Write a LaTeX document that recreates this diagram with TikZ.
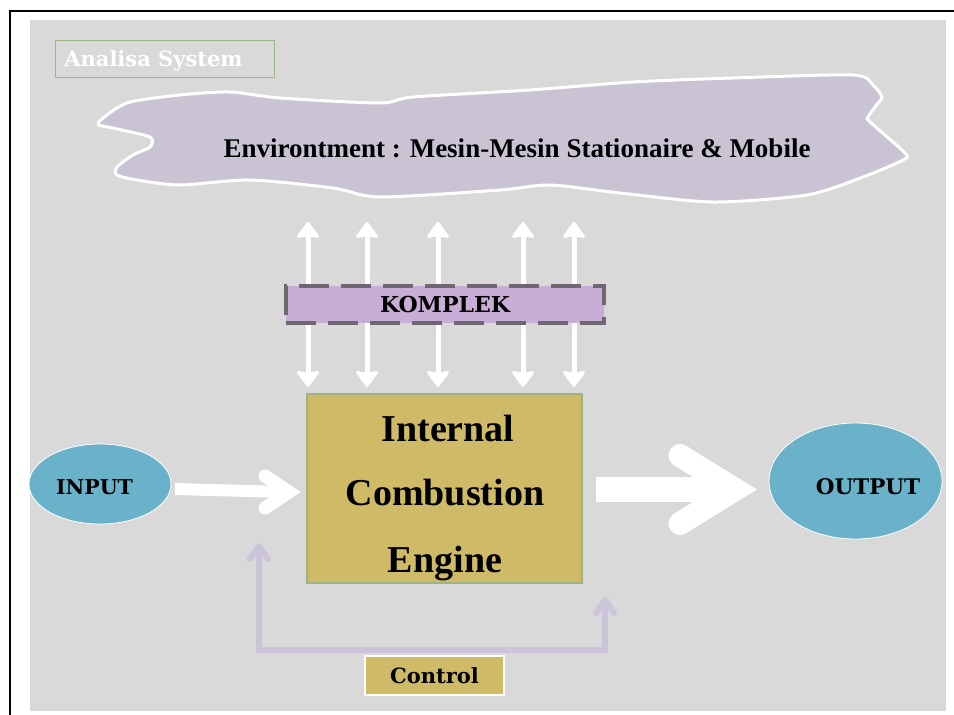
\documentclass[tikz,border=0pt]{standalone}
\usepackage{fontspec}
\setmainfont{Liberation Serif}
\newfontfamily\tagfamily{DejaVu Serif}
\usetikzlibrary{calc,shapes.geometric}

\definecolor{pagegray}{HTML}{D9D9D9}
\definecolor{cloudfill}{HTML}{C9C3D4}
\definecolor{kompfill}{HTML}{C8ADD6}
\definecolor{kompdash}{HTML}{6D6870}
\definecolor{enginefill}{HTML}{CEBA67}
\definecolor{greenedge}{HTML}{9DB582}
\definecolor{ioblue}{HTML}{6AB1CA}
\definecolor{ctrlline}{HTML}{CCC4D8}

% bold serif for the large titles, wide bold serif for the tags
\newcommand\bigbold[1]{\fontsize{#1}{#1}\selectfont\bfseries}
\newcommand\tagbold[1]{\tagfamily\fontsize{#1}{#1}\selectfont\bfseries}

\begin{document}
\begin{tikzpicture}[x=1pt,y=-1pt,
  cloudshape/.style={fill=cloudfill,draw=white,line width=3pt,line join=round},
  tagbox/.style={rectangle,inner sep=0pt},
  vlink/.style={draw=white,line width=5pt},
  vhead/.style={fill=white,draw=white,line width=3pt,line join=round},
  ctrlink/.style={draw=ctrlline,line width=6pt,line cap=round,line join=round},
  bigshaft/.style={draw=white},
  barb/.style={draw=white,line cap=round,line join=miter},
  ionode/.style={ellipse,fill=ioblue,draw=white,line width=0.8pt,inner sep=0pt}
]
\useasboundingbox (0,0) rectangle (954,715);
\fill[white] (0,0) rectangle (954,715);
\fill[pagegray] (30,20) rectangle (946,711);
\draw[black,line width=2.4pt] (10,715) -- (10,11) -- (954,11);

% title tag
\node[tagbox,draw=greenedge,line width=1pt,minimum width=219pt,minimum height=37pt] (title) at (164.5,58.5) {};
\node[anchor=base,text=white] (titletext) at (153.5,66) {\tagbold{21}Analisa System};

% environment cloud
\draw[cloudshape] plot[smooth cycle,tension=0.45] coordinates {
  (98,123) (127,103) (180,95) (230,92) (280,98) (380,103) (413,97) (530,90)
  (633,82) (733,78) (853,75) (873,85) (882,97) (878,103) (868,117) (870,122)
  (905,153) (903,160) (863,177) (807,195) (713,202) (620,193) (550,185)
  (500,190) (380,197) (333,188) (250,180) (180,185) (137,180) (117,175)
  (117,167) (133,155) (150,147) (150,137) (113,128)};
\node[anchor=base] (env) at (517,157) {\bigbold{27}Environtment : Mesin-Mesin Stationaire \& Mobile};

% vertical exchange arrows, heads on both ends
\foreach \i/\x in {1/308,2/367,3/438,4/523,5/574}{
  \coordinate (up\i) at (\x,223.5);
  \coordinate (dn\i) at (\x,385.5);
  \draw[vlink] ($(up\i)+(0,10)$) -- ($(dn\i)+(0,-10)$);
  \filldraw[vhead] (up\i) -- ++(-9.5,13) -- ++(9.5,-2) -- ++(9.5,2) -- cycle;
  \filldraw[vhead] (dn\i) -- ++(-9.5,-13) -- ++(9.5,2) -- ++(9.5,-2) -- cycle;
}

% KOMPLEK band
\node[tagbox,fill=kompfill,draw=kompdash,line width=4pt,dash pattern=on 30pt off 12pt,
      minimum width=318pt,minimum height=37pt] (komplek) at (444.5,304.5) {};
\node[anchor=base] (komptext) at (445,312) {\tagbold{22}KOMPLEK};

% engine block
\node[tagbox,fill=enginefill,draw=greenedge,line width=2pt,minimum width=275pt,minimum height=189pt] (engine) at (444.5,488.5) {};
\node[anchor=base] (eng1) at (448,441) {\bigbold{38}Internal};
\node[anchor=base] (eng2) at (445,505) {\bigbold{38}Combustion};
\node[anchor=base] (eng3) at (445,572) {\bigbold{38}Engine};

% input / output
\node[ionode,minimum width=142pt,minimum height=80pt] (input) at (100,484) {};
\node[anchor=base] (inputtext) at (94.5,494) {\tagbold{20.5}INPUT};
\node[ionode,minimum width=173pt,minimum height=116pt] (output) at (855.5,481) {};
\node[anchor=base] (outputtext) at (868,494) {\tagbold{21.5}OUTPUT};

% input arrow
\coordinate (inA) at (175,489);
\coordinate (inB) at (289,492);
\draw[bigshaft,line width=12pt] (inA) -- ($(inB)+(-4,0)$);
\draw[barb,line width=13pt] ($(inB)+(-24,-16)$) -- (inB) -- ($(inB)+(-24,16)$);

% output arrow
\coordinate (outA) at (596,489.5);
\coordinate (outB) at (735,489.5);
\draw[bigshaft,line width=25pt] (outA) -- ($(outB)+(-10,0)$);
\draw[barb,line width=23pt] ($(outB)+(-55,-34)$) -- (outB) -- ($(outB)+(-55,34)$);

% control loop
\node[tagbox,fill=enginefill,draw=white,line width=2pt,minimum width=139pt,minimum height=39pt] (control) at (434.5,675.5) {};
\node[anchor=base] (controltext) at (434.5,683) {\tagbold{21}Control};
\coordinate (cl) at (259,546);
\coordinate (cr) at (605,600);
\draw[ctrlink,line cap=butt,line join=miter] (cl) -- (259,650) -- (605,650) -- (cr);
\draw[ctrlink] ($(cl)+(-9,13)$) -- (cl) -- ($(cl)+(9,13)$);
\draw[ctrlink] ($(cr)+(-9,13)$) -- (cr) -- ($(cr)+(9,13)$);
\end{tikzpicture}
\end{document}
